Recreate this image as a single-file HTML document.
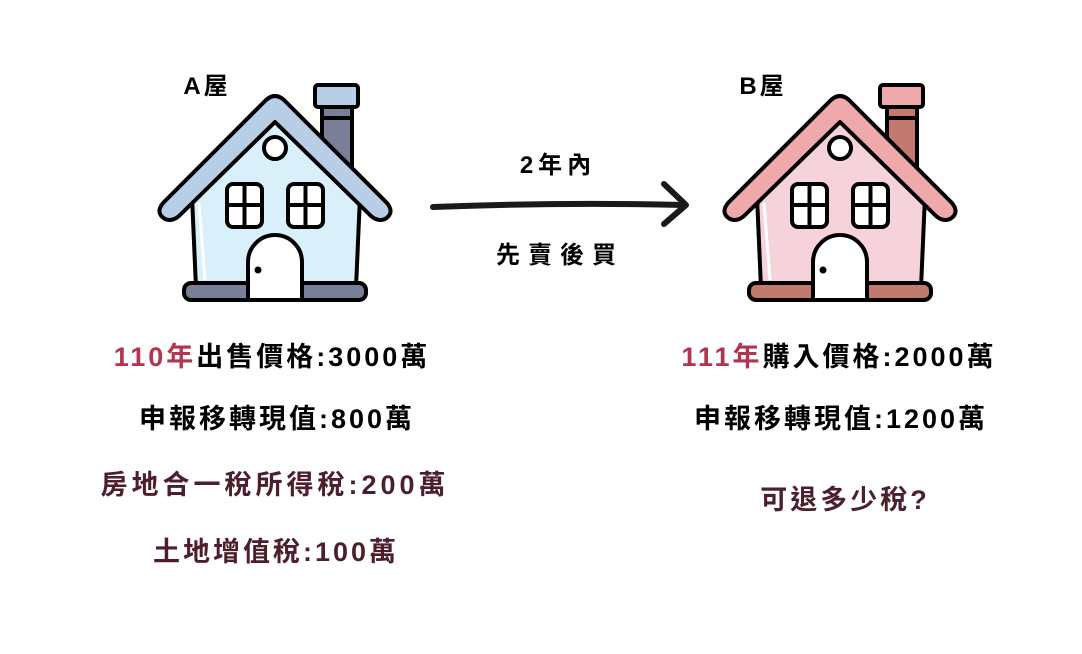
<!DOCTYPE html>
<html><head><meta charset="utf-8"><style>
body{margin:0;width:1082px;height:654px;background:#fff;overflow:hidden;position:relative;font-family:"Liberation Sans","Noto Sans CJK TC",sans-serif;font-weight:bold}
.t{position:absolute;font-size:27px;white-space:nowrap;letter-spacing:3px;transform:translateX(-50%)}
.r{color:#b3344f}.m{color:#4d1f2a}
</style></head><body>
<svg width="1082" height="654" style="position:absolute;left:0;top:0">
<g id="A">
<rect x="322" y="100" width="30" height="75" fill="#7a7f98" stroke="#000" stroke-width="4"/>
<line x1="322" y1="118" x2="352" y2="118" stroke="#000" stroke-width="4"/>
<rect x="315" y="85" width="43" height="22" rx="3" fill="#b8cde6" stroke="#000" stroke-width="4"/>
<polygon points="275,118 360,196 356,288 196,288 192,196" fill="#d9f0fa" stroke="#000" stroke-width="4" stroke-linejoin="round"/>
<line x1="199" y1="203" x2="205" y2="280" stroke="#fff" stroke-width="3"/>
<path d="M163,203 L266,100 Q275,92 284,100 L387,203 Q395,213 385,219 Q378,222 371,216 L275,122 L179,216 Q172,222 165,219 Q155,213 163,203 Z" fill="#b8cde6" stroke="#000" stroke-width="4" stroke-linejoin="round"/>
<circle cx="275" cy="148" r="11" fill="#fff" stroke="#000" stroke-width="4"/>
<rect x="227" y="184" width="35" height="43" rx="6" fill="#fff" stroke="#000" stroke-width="4"/>
<line x1="244.5" y1="184" x2="244.5" y2="227" stroke="#000" stroke-width="4"/><line x1="227" y1="205" x2="262" y2="205" stroke="#000" stroke-width="4"/>
<rect x="288" y="184" width="35" height="43" rx="6" fill="#fff" stroke="#000" stroke-width="4"/>
<line x1="305.5" y1="184" x2="305.5" y2="227" stroke="#000" stroke-width="4"/><line x1="288" y1="205" x2="323" y2="205" stroke="#000" stroke-width="4"/>
<rect x="184" y="283" width="182" height="17" rx="7" fill="#7a7f98" stroke="#000" stroke-width="4"/>
<path d="M248,300 L248,262 A27,27 0 0 1 302,262 L302,300 Z" fill="#fff" stroke="#000" stroke-width="4"/>
<circle cx="258" cy="270" r="3.5" fill="#000"/>
</g>
<g transform="translate(565,0)">
<rect x="322" y="100" width="30" height="75" fill="#c27a6e" stroke="#000" stroke-width="4"/>
<line x1="322" y1="118" x2="352" y2="118" stroke="#000" stroke-width="4"/>
<rect x="315" y="85" width="43" height="22" rx="3" fill="#f0a9ab" stroke="#000" stroke-width="4"/>
<polygon points="275,118 360,196 356,288 196,288 192,196" fill="#f6d3da" stroke="#000" stroke-width="4" stroke-linejoin="round"/>
<line x1="199" y1="203" x2="205" y2="280" stroke="#fff" stroke-width="3"/>
<path d="M163,203 L266,100 Q275,92 284,100 L387,203 Q395,213 385,219 Q378,222 371,216 L275,122 L179,216 Q172,222 165,219 Q155,213 163,203 Z" fill="#f0a9ab" stroke="#000" stroke-width="4" stroke-linejoin="round"/>
<circle cx="275" cy="148" r="11" fill="#fff" stroke="#000" stroke-width="4"/>
<rect x="227" y="184" width="35" height="43" rx="6" fill="#fff" stroke="#000" stroke-width="4"/>
<line x1="244.5" y1="184" x2="244.5" y2="227" stroke="#000" stroke-width="4"/><line x1="227" y1="205" x2="262" y2="205" stroke="#000" stroke-width="4"/>
<rect x="288" y="184" width="35" height="43" rx="6" fill="#fff" stroke="#000" stroke-width="4"/>
<line x1="305.5" y1="184" x2="305.5" y2="227" stroke="#000" stroke-width="4"/><line x1="288" y1="205" x2="323" y2="205" stroke="#000" stroke-width="4"/>
<rect x="184" y="283" width="182" height="17" rx="7" fill="#c27a6e" stroke="#000" stroke-width="4"/>
<path d="M248,300 L248,262 A27,27 0 0 1 302,262 L302,300 Z" fill="#fff" stroke="#000" stroke-width="4"/>
<circle cx="258" cy="270" r="3.5" fill="#000"/>
</g>
<path d="M433,207 Q560,202 684,205" fill="none" stroke="#1a1a1a" stroke-width="6" stroke-linecap="round"/>
<path d="M664,184 L686,205 L664,224" fill="none" stroke="#1a1a1a" stroke-width="6" stroke-linecap="round" stroke-linejoin="round"/>
</svg>
<div class="t" style="left:207px;top:66px;font-size:24px">A屋</div>
<div class="t" style="left:763px;top:66px;font-size:24px">B屋</div>
<div class="t" style="left:558px;top:145px;font-size:24px;letter-spacing:5px">2年內</div>
<div class="t" style="left:560px;top:235px;font-size:24px;letter-spacing:8px">先賣後買</div>
<div class="t" style="left:272px;top:335px"><span class="r">110年</span>出售價格:3000萬</div>
<div class="t" style="left:277px;top:397px">申報移轉現值:800萬</div>
<div class="t m" style="left:275px;top:463px;letter-spacing:4px">房地合一稅所得稅:200萬</div>
<div class="t m" style="left:276px;top:530px">土地增值稅:100萬</div>
<div class="t" style="left:839px;top:335px"><span class="r">111年</span>購入價格:2000萬</div>
<div class="t" style="left:841px;top:397px">申報移轉現值:1200萬</div>
<div class="t m" style="left:845px;top:478px">可退多少稅?</div>
</body></html>
